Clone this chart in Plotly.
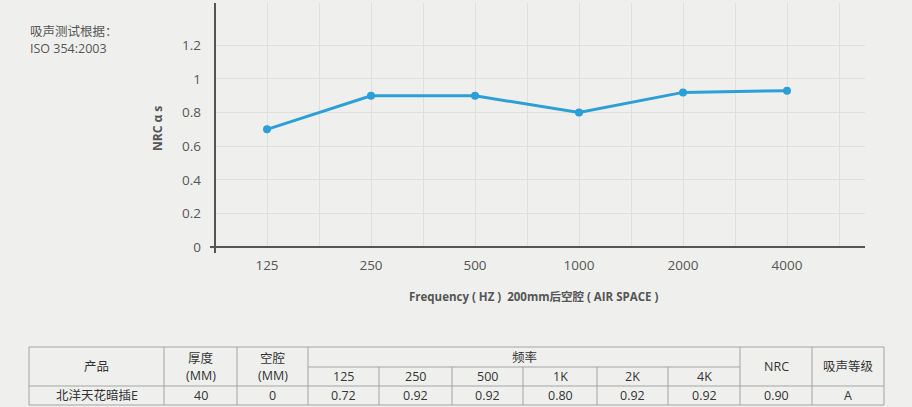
import plotly.graph_objects as go

# ---------------- data ----------------
freq_labels = ["125", "250", "500", "1000", "2000", "4000"]
absorption = [0.70, 0.90, 0.90, 0.80, 0.92, 0.93]
y_tick_vals = [0, 0.2, 0.4, 0.6, 0.8, 1.0, 1.2]
y_tick_text = ["0", "0.2", "0.4", "0.6", "0.8", "1", "1.2"]

note_lines = ["吸声测试根据：", "ISO 354:2003"]
x_title = "Frequency ( HZ )  200mm后空腔 ( AIR SPACE )"
y_title = "NRC α s"

table_head_product = "产品"
table_head_thick = ["厚度", "(MM)"]
table_head_cavity = ["空腔", "(MM)"]
table_head_freq = "频率"
table_freq_labels = ["125", "250", "500", "1K", "2K", "4K"]
table_head_nrc = "NRC"
table_head_grade = "吸声等级"
table_product = "北洋天花暗插E"
table_thickness = "40"
table_cavity = "0"
table_values = ["0.72", "0.92", "0.92", "0.80", "0.92", "0.92"]
table_nrc = "0.90"
table_grade = "A"

# ---------------- layout helpers ----------------
W, H = 912, 407
L, R, T, B = 215, 865, 3, 247
BG = "#eff0ee"
AXC = "#555555"
TXT = "#555555"
TBL_TXT = "#333333"
TBL_LINE = "#a3a3a3"
FONT = "Open Sans, Noto Sans CJK SC, sans-serif"


def px(x):
    return (x - L) / (R - L)


def py(y):
    return (B - y) / (B - T)


x_idx = list(range(len(freq_labels)))

fig = go.Figure()
fig.add_trace(go.Scatter(
    x=x_idx, y=absorption, mode="lines+markers",
    line=dict(color="#2c9fd6", width=3),
    marker=dict(color="#2c9fd6", size=8),
    hoverinfo="skip", showlegend=False,
))

shapes = []
annotations = []

# axis lines (extend slightly past the corner as in reference)
shapes.append(dict(type="line", xref="paper", yref="paper",
                   x0=px(210), x1=1, y0=0, y1=0,
                   line=dict(color=AXC, width=2)))
shapes.append(dict(type="line", xref="paper", yref="paper",
                   x0=0, x1=0, y0=py(253), y1=1,
                   line=dict(color=AXC, width=2)))

# notes
for i, t in enumerate(note_lines):
    annotations.append(dict(text=t, xref="paper", yref="paper",
                            x=px(28), y=py(31 + 17 * i), xanchor="left",
                            yanchor="middle", showarrow=False,
                            font=dict(size=12.5, color=TXT, family=FONT)))

# axis titles
annotations.append(dict(text="<b>" + x_title + "</b>", xref="paper", yref="paper",
                        x=px(533), y=py(296), xanchor="center", yanchor="middle",
                        showarrow=False, font=dict(size=11.5, color=TXT, family=FONT)))
annotations.append(dict(text="<b>" + y_title + "</b>", xref="paper", yref="paper",
                        x=px(157), y=py(129), xanchor="center", yanchor="middle",
                        textangle=-90, showarrow=False,
                        font=dict(size=12, color=TXT, family=FONT)))

# ---------------- table ----------------
col_edges = [29, 164, 237, 308, 379, 452, 523, 597, 668, 740, 812, 884]
row_top, row_mid, row_head, row_bot = 347, 367, 386, 405


def hline(y, x0, x1):
    shapes.append(dict(type="line", xref="paper", yref="paper",
                       x0=px(x0), x1=px(x1), y0=py(y), y1=py(y),
                       line=dict(color=TBL_LINE, width=1)))


def vline(x, y0, y1):
    shapes.append(dict(type="line", xref="paper", yref="paper",
                       x0=px(x), x1=px(x), y0=py(y0), y1=py(y1),
                       line=dict(color=TBL_LINE, width=1)))


def cell(text, x0, x1, y):
    annotations.append(dict(text=text, xref="paper", yref="paper",
                            x=px((x0 + x1) / 2), y=py(y), xanchor="center",
                            yanchor="middle", showarrow=False,
                            font=dict(size=12.5, color=TBL_TXT, family=FONT)))


hline(row_top, col_edges[0], col_edges[-1])
hline(row_mid, col_edges[3], col_edges[9])
hline(row_head, col_edges[0], col_edges[-1])
hline(row_bot, col_edges[0], col_edges[-1])
for i, x in enumerate(col_edges):
    if 4 <= i <= 8:
        vline(x, row_mid, row_bot)
    else:
        vline(x, row_top, row_bot)

head_c = (row_top + row_head) / 2
data_c = (row_head + row_bot) / 2
cell(table_head_product, col_edges[0], col_edges[1], head_c)
cell(table_head_thick[0], col_edges[1], col_edges[2], 358)
cell(table_head_thick[1], col_edges[1], col_edges[2], 375)
cell(table_head_cavity[0], col_edges[2], col_edges[3], 358)
cell(table_head_cavity[1], col_edges[2], col_edges[3], 375)
cell(table_head_freq, col_edges[3], col_edges[9], 357)
for i, t in enumerate(table_freq_labels):
    cell(t, col_edges[3 + i], col_edges[4 + i], 376.5)
cell(table_head_nrc, col_edges[9], col_edges[10], head_c)
cell(table_head_grade, col_edges[10], col_edges[11], head_c)

cell(table_product, col_edges[0], col_edges[1], data_c)
cell(table_thickness, col_edges[1], col_edges[2], data_c)
cell(table_cavity, col_edges[2], col_edges[3], data_c)
for i, t in enumerate(table_values):
    cell(t, col_edges[3 + i], col_edges[4 + i], data_c)
cell(table_nrc, col_edges[9], col_edges[10], data_c)
cell(table_grade, col_edges[10], col_edges[11], data_c)

fig.update_layout(
    width=W, height=H,
    margin=dict(l=L, r=W - R, t=T, b=H - B, pad=0),
    paper_bgcolor=BG, plot_bgcolor=BG,
    font=dict(family=FONT, color=TXT, size=13),
    shapes=shapes, annotations=annotations,
    showlegend=False,
    xaxis=dict(
        range=[-0.5, 5.75], tickvals=x_idx, ticktext=freq_labels,
        showgrid=True, gridcolor="#dfe0de", gridwidth=1,
        minor=dict(tickvals=[i + 0.5 for i in x_idx], showgrid=True,
                   gridcolor="#dfe0de", gridwidth=1),
        showline=False, zeroline=False, ticks="",
        ticklabelstandoff=8,
        tickfont=dict(size=13.5, color=TXT, family=FONT), fixedrange=True,
    ),
    yaxis=dict(
        range=[0, 1.452], tickvals=y_tick_vals, ticktext=y_tick_text,
        showgrid=True, gridcolor="#dfe0de", gridwidth=1,
        showline=False, zeroline=False, ticks="",
        ticklabelstandoff=13,
        tickfont=dict(size=13.5, color=TXT, family=FONT), fixedrange=True,
    ),
)

fig.write_html(
    "out.html",
    config={"displayModeBar": False},
    post_script="document.body.style.margin='0';document.body.style.background='#eff0ee';",
)
